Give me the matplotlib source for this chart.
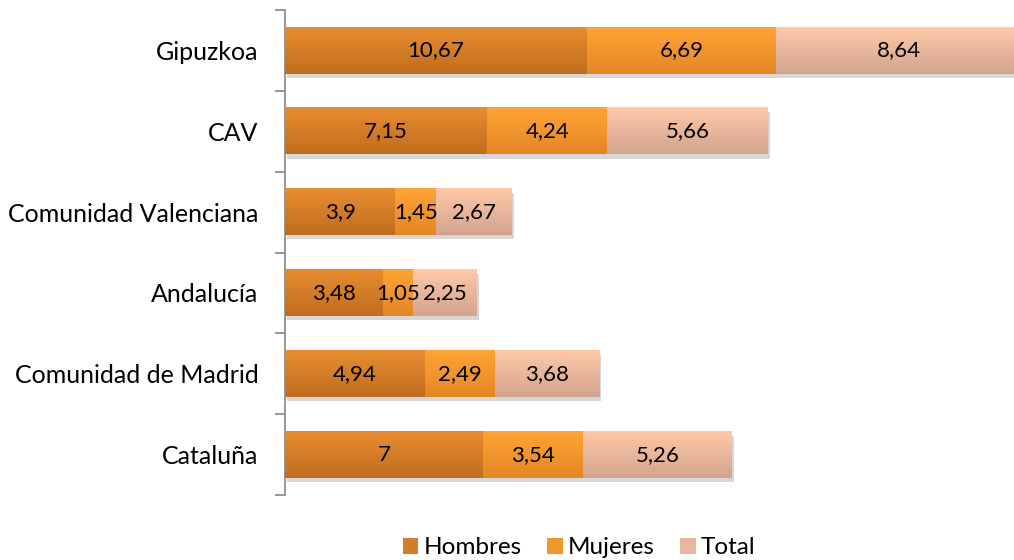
import numpy as np
import matplotlib.pyplot as plt
import matplotlib.patheffects as pe
from matplotlib.patches import Patch

# Datos
regiones = ['Gipuzkoa', 'CAV', 'Comunidad Valenciana', 'Andalucía',
            'Comunidad de Madrid', 'Cataluña']
hombres = [10.67, 7.15, 3.9, 3.48, 4.94, 7]
mujeres = [6.69, 4.24, 1.45, 1.05, 2.49, 3.54]
total = [8.64, 5.66, 2.67, 2.25, 3.68, 5.26]
series = ['Hombres', 'Mujeres', 'Total']

# Colores degradados (arriba, abajo)
colores = [((0.91, 0.55, 0.19), (0.75, 0.43, 0.12)),
           ((1.00, 0.64, 0.21), (0.89, 0.53, 0.15)),
           ((1.00, 0.79, 0.66), (0.82, 0.64, 0.56))]

plt.rcParams['font.family'] = ['Lato', 'DejaVu Sans']

fig = plt.figure(figsize=(10.14, 5.6), dpi=100)
ax = fig.add_axes([0.281, 0.116, 0.719, 0.866])

y = np.arange(len(regiones))
alto = 0.57
izq = np.zeros(len(regiones))

for valores, (c1, c2), nombre in zip([hombres, mujeres, total], colores, series):
    barras = ax.barh(y, valores, left=izq, height=alto, color=c2,
                     linewidth=0, label=nombre)
    for b, v in zip(barras, valores):
        b.set_path_effects([pe.SimplePatchShadow(offset=(1.5, -3), alpha=0.22,
                                                 shadow_rgbFace=(0.3, 0.3, 0.3)),
                            pe.Normal()])
        grad = np.linspace(0, 1, 50)[:, None, None]
        img = np.array(c1)[None, None, :] * (1 - grad) + np.array(c2)[None, None, :] * grad
        x0 = b.get_x()
        y0 = b.get_y()
        ax.imshow(img, extent=(x0, x0 + b.get_width(), y0 + alto, y0),
                  aspect='auto', origin='upper', zorder=3)
        ax.text(x0 + b.get_width() / 2, y0 + alto / 2, f'{v:g}'.replace('.', ','),
                ha='center', va='center', fontsize=16, color='black', zorder=4)
    izq = izq + np.array(valores)

ax.set_xlim(0, 25.76)
ax.set_ylim(len(regiones) - 0.5, -0.5)

for s in ['top', 'right', 'bottom']:
    ax.spines[s].set_visible(False)
ax.spines['left'].set_color('#868686')
ax.spines['left'].set_linewidth(1.2)
ax.set_xticks([])
ax.set_yticks(y)
ax.set_yticklabels(regiones, fontsize=18)
ax.tick_params(axis='y', which='major', length=0, pad=19)
ax.set_yticks(np.arange(-0.5, len(regiones)), minor=True)
ax.tick_params(axis='y', which='minor', length=7, color='#868686', width=1.2)

handles = [Patch(facecolor=tuple((np.array(a) + np.array(b)) / 2), label=n)
           for (a, b), n in zip(colores, series)]
fig.legend(handles=handles, loc='center', bbox_to_anchor=(0.571, 0.022),
           ncol=3, frameon=False, fontsize=17.5, handlelength=0.65,
           handleheight=0.65, handletextpad=0.2, columnspacing=1.05)

fig.savefig('out.png', dpi=100)
